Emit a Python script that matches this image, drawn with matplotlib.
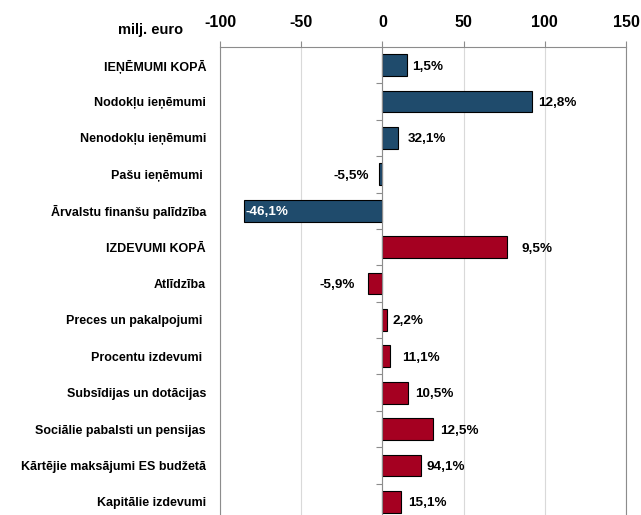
import matplotlib.pyplot as plt
import numpy as np

plt.rcParams['font.family'] = ['Liberation Sans', 'DejaVu Sans']
plt.rcParams['axes.unicode_minus'] = False

# dati (milj. euro, pieauguma procenti)
categories = ['IEŅĒMUMI KOPĀ', 'Nodokļu ieņēmumi', 'Nenodokļu ieņēmumi', 'Pašu ieņēmumi ',
              'Ārvalstu finanšu palīdzība', 'IZDEVUMI KOPĀ', 'Atlīdzība',
              'Preces un pakalpojumi ', 'Procentu izdevumi ', 'Subsīdijas un dotācijas',
              'Sociālie pabalsti un pensijas', 'Kārtējie maksājumi ES budžetā',
              'Kapitālie izdevumi']
values = [15.0, 92.2, 9.7, -2.2, -85.0, 76.6, -9.0, 2.7, 4.9, 16.0, 31.0, 23.7, 11.5]
pct_labels = ['1,5%', '12,8%', '32,1%', '-5,5%', '-46,1%', '9,5%', '-5,9%', '2,2%',
              '11,1%', '10,5%', '12,5%', '94,1%', '15,1%']
n_revenue = 5
label_pad = [5, 6, 10, 10, 0, 15, 13, 6, 12, 7, 7, 6, 7]  # px

BLUE = '#1F4B6C'
RED = '#A50021'
GRID = '#D9D9D9'
SPINE = '#8C8C8C'

fig = plt.figure(figsize=(6.41, 5.15), dpi=100)
ax = fig.add_axes([220 / 641, -5 / 515, 406 / 641, 473 / 515])

y = np.arange(len(categories))
colors = [BLUE if i < n_revenue else RED for i in range(len(categories))]
bars = ax.barh(y, values, height=0.6, color=colors, edgecolor='black', linewidth=0.8, zorder=3)

ax.set_xlim(-100, 150)
ax.set_ylim(12.5, -0.5)
ax.set_xticks([-100, -50, 0, 50, 100, 150])
ax.xaxis.tick_top()
ax.tick_params(axis='x', length=4.3, width=0.8, color=SPINE, labelsize=11.5, pad=8)
for lab in ax.get_xticklabels():
    lab.set_fontweight('bold')
ax.grid(axis='x', color=GRID, linewidth=0.8, zorder=0)

ax.set_yticks(y)
ax.set_yticklabels(categories, fontsize=9, fontweight='bold')
ax.tick_params(axis='y', length=0, pad=10)

for s in ['left', 'right', 'top']:
    ax.spines[s].set_color(SPINE)
    ax.spines[s].set_linewidth(0.8)
ax.spines['bottom'].set_visible(False)

# nulles līnija ar iedaļām
ax2 = ax.twinx()
ax2.set_ylim(ax.get_ylim())
ax2.spines['left'].set_position(('data', 0))
ax2.spines['left'].set_color(SPINE)
ax2.spines['left'].set_zorder(4)
for s in ['right', 'top', 'bottom']:
    ax2.spines[s].set_visible(False)
ax2.yaxis.set_ticks_position('left')
ax2.set_yticks(np.arange(len(categories) - 1) + 0.5)
ax2.set_yticklabels([])
ax2.tick_params(axis='y', length=4, width=0.8, color=SPINE)

# vērtību etiķetes
for i, (v, lab) in enumerate(zip(values, pct_labels)):
    if v < -50:
        ax.annotate(lab, xy=(v, i), xytext=(1, 0), textcoords='offset points',
                    ha='left', va='center_baseline', fontsize=9.7, fontweight='bold',
                    color='white', zorder=5)
    elif v < 0:
        ax.annotate(lab, xy=(v, i), xytext=(-label_pad[i] * 0.72, 0), textcoords='offset points',
                    ha='right', va='center_baseline', fontsize=9.7, fontweight='bold', zorder=5)
    else:
        ax.annotate(lab, xy=(v, i), xytext=(label_pad[i] * 0.72, 0), textcoords='offset points',
                    ha='left', va='center_baseline', fontsize=9.7, fontweight='bold', zorder=5)

fig.text(151 / 641, 1 - 30 / 515, 'milj. euro', ha='center', va='center',
         fontsize=10.5, fontweight='bold')

fig.savefig('out.png', dpi=100)
